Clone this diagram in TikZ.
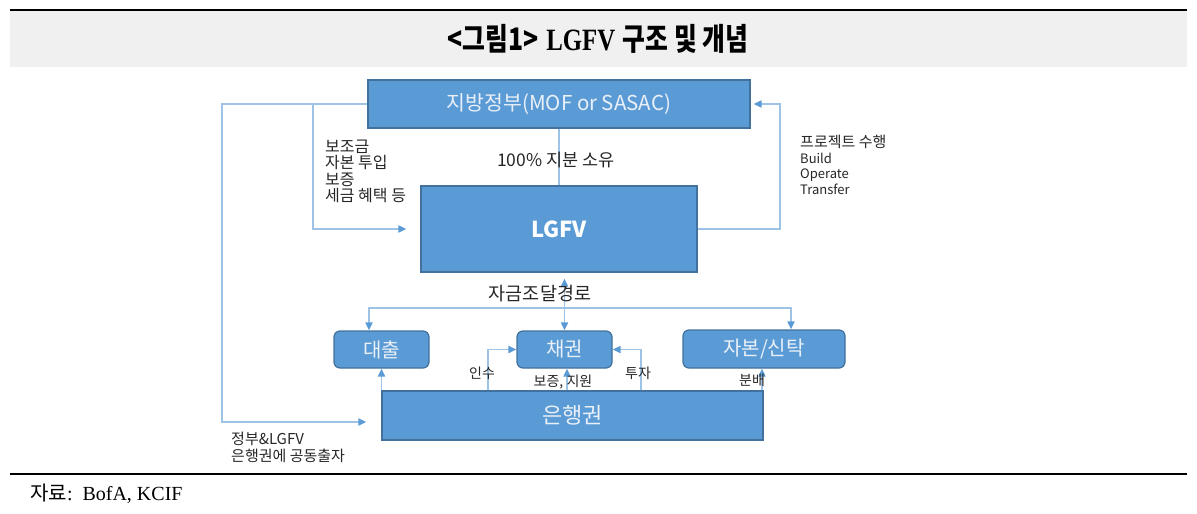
\documentclass[tikz,border=0pt]{standalone}
\usepackage{fontspec}
\setmainfont{Liberation Serif}
\newfontfamily\kr{Noto Sans CJK KR}
\newfontfamily\krtitle[FakeStretch=0.8]{Noto Sans CJK KR}
\newfontfamily\serftitle[FakeStretch=0.8]{Liberation Serif}
\usetikzlibrary{positioning,arrows.meta,calc}
\definecolor{boxblue}{HTML}{5B9BD5}
\definecolor{boxedge}{HTML}{41719C}
\definecolor{linkblue}{HTML}{9DC3E6}
\definecolor{tipblue}{HTML}{5B9BD5}
\definecolor{boxtext}{HTML}{EAF0F7}
\definecolor{labeltext}{HTML}{262626}
\definecolor{bandgray}{HTML}{F0F0F0}

\tikzset{
  box/.style={draw=boxedge, line width=1.2pt, fill=boxblue, text=boxtext,
    font=\kr\fontsize{20.5}{23}\selectfont, inner sep=0pt},
  roundbox/.style={box, rounded corners=6pt, font=\kr\fontsize{20}{22}\selectfont},
  link/.style={draw=linkblue, line width=1.8pt},
  linkarrow/.style={link, -{Triangle[length=8pt,width=7pt,color=tipblue]}},
  linkboth/.style={link, {Triangle[length=8pt,width=7pt,color=tipblue]}-{Triangle[length=8pt,width=7pt,color=tipblue]}},
  lab/.style={text=labeltext, font=\kr\fontsize{16}{16.2}\selectfont, inner sep=0pt},
  smalllab/.style={text=labeltext, font=\kr\fontsize{14}{15}\selectfont, inner sep=0pt},
}

\begin{document}
\begin{tikzpicture}[x=1pt, y=-1pt]
  \useasboundingbox (0,0) rectangle (1197,514);

  % Title band
  \fill[bandgray] (10,11) rectangle (1187,67);
  \draw[line width=2.5pt] (10,10) -- (1187,10);
  \node (title) at (598,39) {\fontsize{31}{33}\selectfont
    {\krtitle\bfseries <그림1>}\ {\serftitle\bfseries LGFV}\ {\krtitle\bfseries 구조 및 개념}};

  % Source
  \draw[line width=2pt] (10,474) -- (1187,474);
  \node[anchor=west, inner sep=0pt] (source) at (30,494)
    {\fontsize{20}{22}\selectfont{\kr 자료}:~~BofA, KCIF};

  % Boxes
  \node[box, minimum width=382pt, minimum height=48pt] (gov) at (559,104) {지방정부(MOF or SASAC)};
  \node[box, minimum width=276pt, minimum height=86pt, font=\kr\bfseries\fontsize{22}{24}\selectfont, text=white] (lgfv) at (559,229) {LGFV};
  \node[roundbox, minimum width=95pt, minimum height=37pt] (loan) at (381.5,349.5) {대출};
  \node[roundbox, minimum width=95pt, minimum height=37pt] (bond) at (564.5,349.5) {채권};
  \node[roundbox, minimum width=162pt, minimum height=38pt] (trust) at (764,349) {자본/신탁};
  \node[box, minimum width=381pt, minimum height=49pt, font=\kr\fontsize{22}{24}\selectfont] (bank) at (572.5,415.5) {은행권};

  % Helper points
  \coordinate (farL) at (222,0);
  \coordinate (subL) at (313,0);
  \coordinate (botR) at (780,0);
  \coordinate (fundL) at (369,308);
  \coordinate (fundR) at (791,308);
  \coordinate (takeL) at (488,0);
  \coordinate (investR) at (641,0);

  % Government links
  \draw[linkarrow, shorten >=15pt] (gov.west) -| ($(farL |- bank.west)+(0,6.5)$) -- ($(bank.west)+(0,6.5)$);
  \draw[linkarrow, shorten >=14pt] (subL |- gov.west) |- (lgfv.west);
  \draw[link] (gov.south) -- (lgfv.north);
  \draw[linkarrow, shorten >=3pt] (lgfv.east) -| (botR |- gov.east) -- (gov.east);

  % Funding routes
  \draw[linkboth, shorten <=6pt] (bond.north |- lgfv.south) -- (bond.north);
  \draw[linkboth] (fundL |- loan.north) -- (fundL) -- (fundR) -- (fundR |- trust.north);

  % Bank links
  \draw[linkarrow] (loan.south |- bank.north) -- (loan.south);
  \draw[linkarrow] ($(bond.south |- bank.north)+(2.5,0)$) -- ($(bond.south)+(2.5,0)$);
  \draw[linkarrow] ($(trust.south |- bank.north)+(-2,0)$) -- ($(trust.south)+(-2,0)$);
  \draw[linkarrow] (takeL |- bank.north) |- (bond.west);
  \draw[linkarrow] (investR |- bank.north) |- (bond.east);

  % Labels
  \node[lab, anchor=north west, align=left] (aid) at (325,140) {보조금\\자본 투입\\보증\\세금 혜택 등};
  \node[lab, font=\kr\fontsize{17.5}{19}\selectfont] (own) at (556,160) {100\% 지분 소유};
  \node[lab, anchor=north west, align=left, font=\kr\fontsize{15}{15.5}\selectfont] (bot) at (800,135)
    {프로젝트 수행\\{\fontsize{13}{15}\selectfont Build}\\{\fontsize{13}{15}\selectfont Operate}\\{\fontsize{13}{15}\selectfont Transfer}};
  \node[lab, font=\kr\fontsize{18.5}{20}\selectfont] (fund) at (540,294) {자금조달경로};
  \node[smalllab] (take) at (482,373) {인수};
  \node[smalllab] (guar) at (563,382) {보증, 지원};
  \node[smalllab] (invest) at (638,373) {투자};
  \node[smalllab] (share) at (752,380) {분배};
  \node[lab, anchor=north west, align=left, font=\kr\fontsize{15}{16.5}\selectfont] (joint) at (231,432) {정부\&LGFV\\은행권에 공동출자};
\end{tikzpicture}
\end{document}
